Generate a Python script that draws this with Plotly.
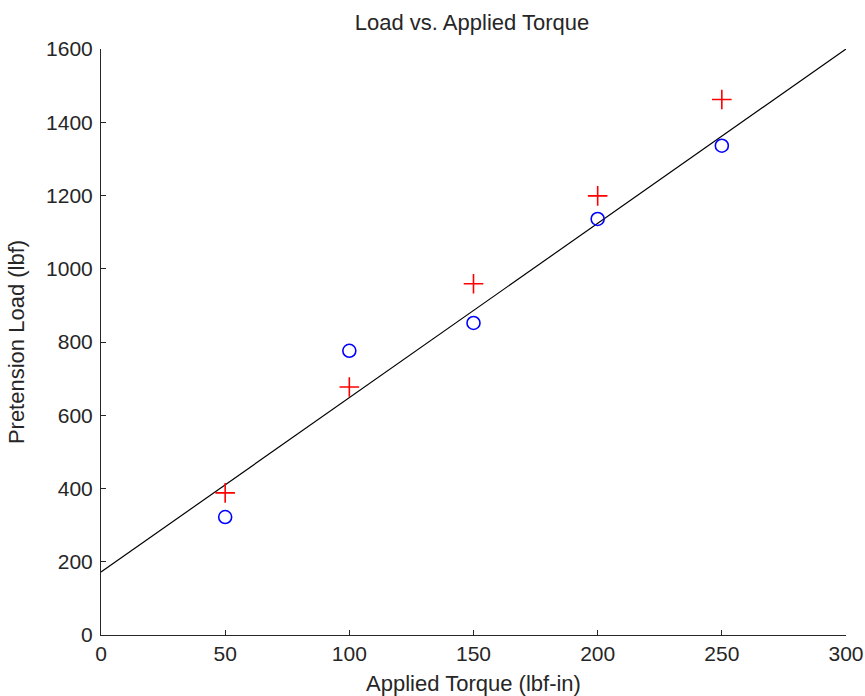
import plotly.graph_objects as go

torque = [50, 100, 150, 200, 250]
load_circle = [322, 776, 852, 1136, 1336]
load_plus = [388, 677, 959, 1199, 1462]
fit_x = [0, 300]
fit_y = [172, 1600]

x_ticks = [0, 50, 100, 150, 200, 250, 300]
y_ticks = [0, 200, 400, 600, 800, 1000, 1200, 1400, 1600]

FONT = "Liberation Sans, Arial, Helvetica"
TXT = "#262626"

fig = go.Figure()
fig.add_trace(go.Scatter(x=fit_x, y=fit_y, mode="lines",
                         line=dict(color="black", width=1.2), showlegend=False))
fig.add_trace(go.Scatter(x=torque, y=load_plus, mode="markers",
                         marker=dict(symbol="cross-thin", size=14,
                                     line=dict(color="#ff0000", width=1.6)),
                         showlegend=False))
fig.add_trace(go.Scatter(x=torque, y=load_circle, mode="markers",
                         marker=dict(symbol="circle-open", size=13,
                                     color="#0000ff", line=dict(color="#0000ff", width=1.6)),
                         showlegend=False))

axis_common = dict(showgrid=False, zeroline=False, showline=True, linecolor=TXT,
                   linewidth=1, ticks="inside", ticklen=5, tickcolor=TXT,
                   tickfont=dict(family=FONT, size=21, color=TXT),
                   mirror=False, automargin=False)

W, H = 865, 696
fig.update_layout(
    width=W, height=H,
    margin=dict(l=101, r=19, t=49, b=61),
    paper_bgcolor="white", plot_bgcolor="white",
    title=dict(text="Load vs. Applied Torque", x=472 / W, xanchor="center",
               y=1 - 22 / H, yanchor="middle",
               font=dict(family=FONT, size=22, color=TXT)),
    xaxis=dict(range=[0, 300], tickvals=x_ticks,
               title=dict(text="Applied Torque (lbf-in)", standoff=13,
                          font=dict(family=FONT, size=22, color=TXT)),
               **axis_common),
    yaxis=dict(range=[0, 1600], tickvals=y_ticks, ticklabelstandoff=3,
               title=dict(text="Pretension Load (lbf)", standoff=15,
                          font=dict(family=FONT, size=22, color=TXT)),
               **axis_common),
)

fig.write_html("out.html", config={"displayModeBar": False},
               post_script="document.body.style.margin='0';")
